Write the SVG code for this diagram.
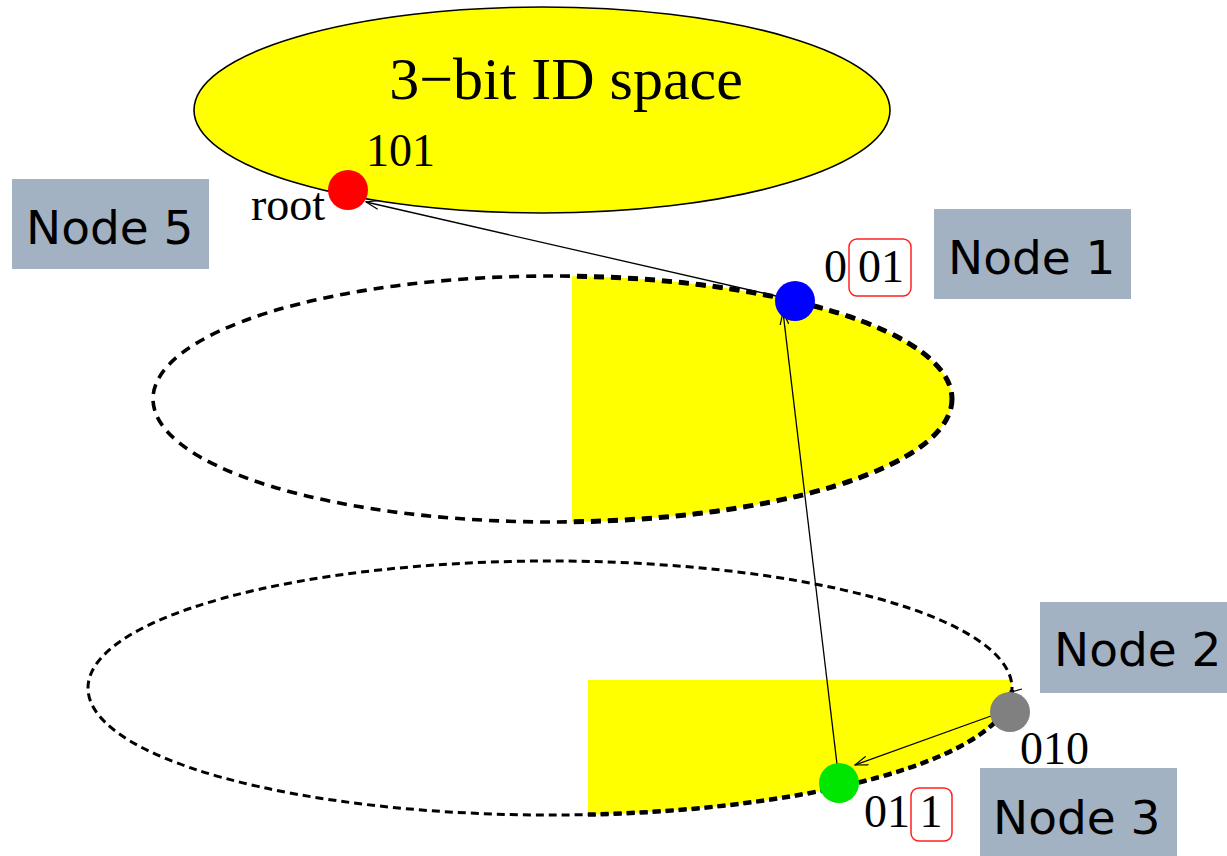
<svg xmlns="http://www.w3.org/2000/svg" width="1227" height="856" viewBox="0 0 1227 856">
  <style>
    .serif { font-family: "Liberation Serif", "Times New Roman", serif; fill: #000; }
    .lbl { font-size: 46px; }
    .tag rect { fill: #A3B2C2; }
    .tag text { font-family: "DejaVu Sans", Verdana, sans-serif; font-size: 47px; fill: #000; }
    .ring { fill: none; stroke: #000; }
    .link { fill: none; stroke: #000; stroke-width: 1.3; marker-end: url(#open); }
    .idbox { fill: none; stroke: #FF2020; stroke-width: 1.5; }
  </style>
  <defs>
    <marker id="open" viewBox="0 0 14 10" refX="13" refY="5" markerWidth="14" markerHeight="10" markerUnits="userSpaceOnUse" orient="auto">
      <path d="M0,0.5 L13,5 L0,9.5" fill="none" stroke="#000" stroke-width="1.2"/>
    </marker>
    <clipPath id="midHalf">
      <rect x="572" y="260" width="400" height="280"/>
    </clipPath>
    <clipPath id="lowPart">
      <rect x="588" y="680" width="440" height="150"/>
    </clipPath>
    <clipPath id="lowArc">
      <rect x="588" y="690" width="440" height="150"/>
    </clipPath>
  </defs>

  <rect width="1227" height="856" fill="#fff"/>

  <!-- upper level: full 3-bit ID space -->
  <g id="space">
    <ellipse cx="542" cy="110" rx="348" ry="103" fill="#FFFF00" stroke="#000" stroke-width="1.6"/>
    <text class="serif" x="566" y="99" font-size="60" text-anchor="middle">3−bit ID space</text>
  </g>

  <!-- middle level -->
  <g id="level-mid">
    <ellipse cx="552.5" cy="399" rx="399.5" ry="123" fill="#FFFF00" clip-path="url(#midHalf)"/>
    <ellipse class="ring" cx="552.5" cy="399" rx="399.5" ry="123" stroke-width="3.6" stroke-dasharray="10 7"/>
    <ellipse class="ring" cx="552.5" cy="399" rx="399.5" ry="123" stroke-width="5" stroke-dasharray="10 7" clip-path="url(#midHalf)"/>
  </g>

  <!-- lower level -->
  <g id="level-low">
    <ellipse cx="550" cy="688" rx="462" ry="127" fill="#FFFF00" clip-path="url(#lowPart)"/>
    <ellipse class="ring" cx="550" cy="688" rx="462" ry="127" stroke-width="3" stroke-dasharray="8 5"/>
    <ellipse class="ring" cx="550" cy="688" rx="462" ry="127" stroke-width="4.5" stroke-dasharray="8 5" clip-path="url(#lowArc)"/>
  </g>

  <!-- routing links -->
  <g id="connectors">
    <line class="link" x1="776" y1="296" x2="366" y2="202"/>
    <line class="link" x1="837" y1="764" x2="783" y2="312"/>
    <line class="link" x1="991" y1="716" x2="855" y2="765"/>
    <line x1="1008" y1="693" x2="1022" y2="689" stroke="#000" stroke-width="1.2"/>
  </g>

  <g id="node5">
    <circle cx="348" cy="190" r="20" fill="#FF0000"/>
    <text class="serif lbl" x="366" y="166">101</text>
    <text class="serif lbl" x="325" y="220" text-anchor="end">root</text>
    <g class="tag">
      <rect x="12" y="179" width="197" height="90"/>
      <text x="26" y="244">Node 5</text>
    </g>
  </g>

  <g id="node1">
    <circle cx="795" cy="301" r="20" fill="#0000FF"/>
    <text class="serif lbl" x="824" y="282">0</text>
    <rect class="idbox" x="849" y="239" width="62" height="57" rx="8"/>
    <text class="serif lbl" x="858" y="282">01</text>
    <g class="tag">
      <rect x="934" y="209" width="197" height="90"/>
      <text x="948" y="274">Node 1</text>
    </g>
  </g>

  <g id="node2">
    <circle cx="1010" cy="712" r="20" fill="#808080"/>
    <text class="serif lbl" x="1020" y="764">010</text>
    <g class="tag">
      <rect x="1040" y="602" width="187" height="91"/>
      <text x="1054" y="666">Node 2</text>
    </g>
  </g>

  <g id="node3">
    <circle cx="839" cy="783" r="20" fill="#00E600"/>
    <text class="serif lbl" x="864" y="827">01</text>
    <rect class="idbox" x="911" y="788" width="41" height="53" rx="8"/>
    <text class="serif lbl" x="931" y="827" text-anchor="middle">1</text>
    <g class="tag">
      <rect x="980" y="768" width="197" height="88"/>
      <text x="993" y="834">Node 3</text>
    </g>
  </g>
</svg>
